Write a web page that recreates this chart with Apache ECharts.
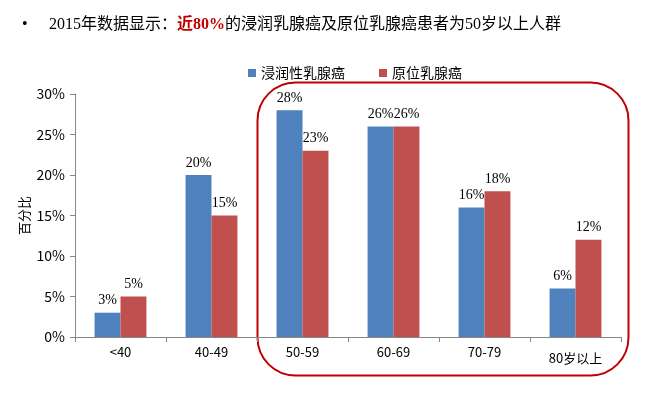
<!DOCTYPE html>
<html><head><meta charset="utf-8">
<script src="https://cdn.jsdelivr.net/npm/echarts@6/dist/echarts.min.js"></script>
<style>html,body{margin:0;padding:0;background:#fff}#c{width:646px;height:396px}</style>
</head><body><div id="c"></div>
<script>
var categories = ['<40', '40-49', '50-59', '60-69', '70-79', '80岁以上'];
var invasive = [3, 20, 28, 26, 16, 6];
var inSitu = [5, 15, 23, 26, 18, 12];
var yTicks = [0, 5, 10, 15, 20, 25, 30];
var seriesNames = ['浸润性乳腺癌', '原位乳腺癌'];

var serif = '"Liberation Serif", "Times New Roman", "Noto Sans CJK SC", serif';
var sans = '"Noto Sans CJK SC", "Microsoft YaHei", sans-serif';
var chart = echarts.init(document.getElementById('c'));
var lbl = {show: true, position: 'top', distance: 5, formatter: '{c}%', color: '#000', fontFamily: serif, fontSize: 14};
chart.setOption({
  animation: false,
  title: {
    left: 17, top: 12,
    text: '{b|•}{a|2015年数据显示：}{r|近80%}{a|的浸润乳腺癌及原位乳腺癌患者为50岁以上人群}',
    textStyle: {
      fontWeight: 'normal',
      rich: {
        b: {fontSize: 16, color: '#000', fontFamily: serif, width: 27, fontWeight: 'normal'},
        a: {fontSize: 16, color: '#000', fontFamily: serif, fontWeight: 'normal'},
        r: {fontSize: 16, color: '#c00000', fontWeight: 'bold', fontFamily: serif}
      }
    }
  },
  legend: {
    top: 61, left: 243,
    itemWidth: 8, itemHeight: 8, itemGap: 34,
    icon: 'rect',
    textStyle: {fontFamily: sans, fontSize: 14, color: '#000', padding: [0, 0, 0, 0]},
    data: seriesNames
  },
  grid: {left: 75, right: 25, top: 94, bottom: 59},
  xAxis: {
    type: 'category', data: categories,
    axisLine: {lineStyle: {color: '#868686'}},
    axisTick: {show: true, length: 5, lineStyle: {color: '#868686'}},
    axisLabel: {
      interval: 0, hideOverlap: false,
      color: '#000', fontFamily: sans, fontSize: 13, margin: 9,
      formatter: function (v) { return v.indexOf('岁') >= 0 ? '{s|' + v + '}' : v; },
      rich: {s: {fontFamily: sans, fontSize: 13, color: '#000', padding: [6, 0, 0, 0]}}
    }
  },
  yAxis: {
    type: 'value', min: yTicks[0], max: yTicks[yTicks.length - 1], interval: 5,
    name: '百分比', nameLocation: 'middle', nameGap: 44, nameRotate: 90, nameMoveOverlap: false,
    nameTextStyle: {fontFamily: sans, fontSize: 13, color: '#000'},
    axisLine: {show: true, lineStyle: {color: '#868686'}},
    axisTick: {show: true, length: 5, lineStyle: {color: '#868686'}},
    splitLine: {show: false},
    axisLabel: {color: '#000', fontFamily: sans, fontSize: 14, margin: 10, formatter: '{value}%'}
  },
  series: [
    {name: seriesNames[0], type: 'bar', data: invasive, barGap: '0%', barCategoryGap: '43%',
     itemStyle: {color: '#4f81bd'}, label: lbl},
    {name: seriesNames[1], type: 'bar', data: inSitu,
     itemStyle: {color: '#c0504d'}, label: lbl}
  ],
  graphic: [{
    type: 'rect', left: 255, top: 80,
    shape: {width: 371, height: 293, r: 38},
    style: {fill: 'none', stroke: '#c00000', lineWidth: 2},
    silent: true
  }]
});
</script></body></html>
